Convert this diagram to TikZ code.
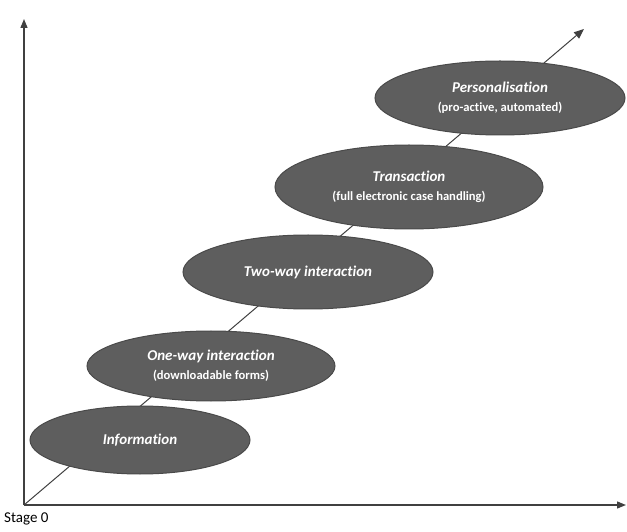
\documentclass[tikz,border=0pt]{standalone}
\usepackage{fontspec}
\setmainfont{Carlito}[Ligatures=NoCommon]
\usetikzlibrary{arrows.meta,shapes.geometric}
\definecolor{stagefill}{HTML}{5E5E5E}
\definecolor{stageedge}{HTML}{4A4A4A}
\definecolor{axisgrey}{HTML}{404040}
\newcommand{\stagetitle}[1]{{\fontsize{15}{18}\selectfont\bfseries\itshape #1}}
\newcommand{\stagenote}[1]{{\fontsize{12.6}{15}\selectfont\bfseries #1}}
\begin{document}
\begin{tikzpicture}[x=1pt,y=1pt,
  stage/.style={ellipse, draw=stageedge, line width=1pt, fill=stagefill,
    inner sep=0pt, text=white, align=center},
  axis/.style={draw=axisgrey, line width=1.3pt, -{Triangle[length=9pt,width=7pt]}},
  path/.style={draw=axisgrey, line width=1pt, -{Triangle[length=10pt,width=8pt]}}]
\useasboundingbox (0,0) rectangle (627,531);
% axes and the rising path
\coordinate (O) at (24,26);
\coordinate (ytip) at (24,512);
\coordinate (xtip) at (626,26);
\coordinate (ptip) at (584,502);
\draw[axis] (O) -- (ytip);
\draw[axis] (O) -- (xtip);
\draw[path] (O) -- (ptip);
% stages
\node[stage, minimum width=220, minimum height=68] (info) at (140,91)
  {\stagetitle{Information}};
\node[stage, minimum width=248, minimum height=70] (oneway) at (211,165)
  {\stagetitle{One-way interaction}\\[7pt]\stagenote{(downloadable forms)}};
\node[stage, minimum width=250, minimum height=74] (twoway) at (308,259)
  {\stagetitle{Two-way interaction}};
\node[stage, minimum width=268, minimum height=84] (trans) at (409,344)
  {\stagetitle{Transaction}\\[7pt]\stagenote{(full electronic case handling)}};
\node[stage, minimum width=250, minimum height=74] (pers) at (500,433)
  {\stagetitle{Personalisation}\\[7pt]\stagenote{(pro-active, automated)}};
\node[anchor=north west, inner sep=0pt, font=\fontsize{15}{17}\selectfont] (stage0) at (4,18) {Stage 0};
\end{tikzpicture}
\end{document}
